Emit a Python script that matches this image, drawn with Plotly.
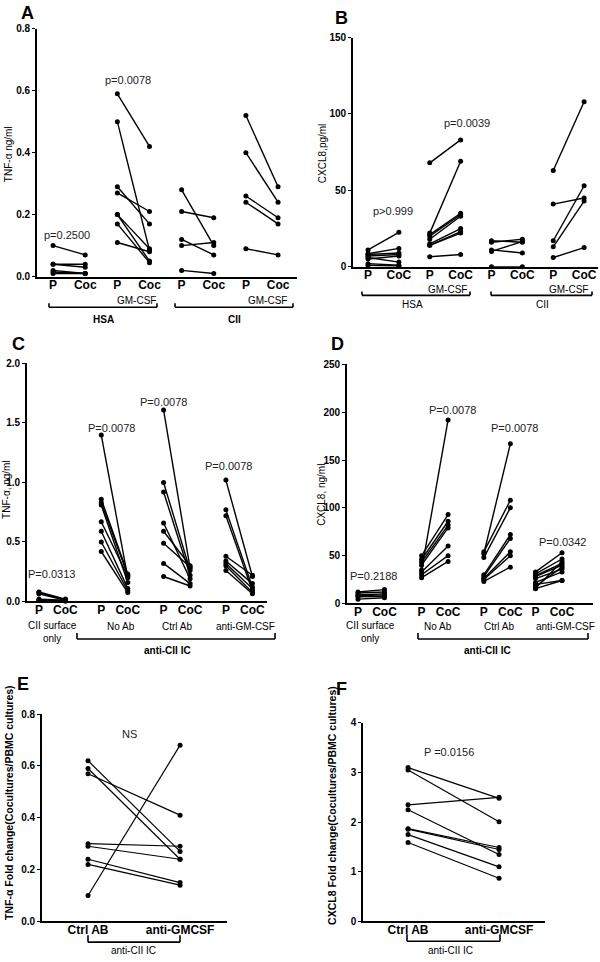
import plotly.graph_objects as go

W, H = 600, 962
FONT = "Liberation Sans, Arial, sans-serif"

# ---------------- DATA ----------------
# Panel A: TNF-alpha ng/ml (P -> Coc pairs), groups: HSA, HSA+GM-CSF, CII, CII+GM-CSF
A_P = [[0.10, 0.04, 0.04, 0.02, 0.015, 0.01],
       [0.59, 0.50, 0.29, 0.27, 0.20, 0.20, 0.17, 0.11],
       [0.28, 0.21, 0.12, 0.10, 0.02],
       [0.52, 0.40, 0.26, 0.24, 0.09]]
A_C = [[0.07, 0.04, 0.03, 0.01, 0.01, 0.01],
       [0.42, 0.085, 0.17, 0.21, 0.09, 0.05, 0.045, 0.08],
       [0.10, 0.19, 0.07, 0.11, 0.01],
       [0.29, 0.24, 0.19, 0.17, 0.07]]
A_ticks = ["P", "Coc"] * 4
A_pvals = ["p=0.2500", "p=0.0078"]

# Panel B: CXCL8 pg/ml
B_P = [[11, 8.5, 8, 7, 6, 5, 2, 1],
       [68, 22, 21, 20, 18, 15, 14, 14, 6.5],
       [17, 16, 10, 11, 0],
       [63, 41, 17, 13, 6]]
B_C = [[22.5, 12, 9, 8, 3, 7, 1, 0.5],
       [83, 69, 35, 34, 33, 25, 23, 22, 8],
       [16, 18, 16.5, 9, 0],
       [108, 45, 53, 43, 12.5]]
B_ticks = ["P", "CoC"] * 4
B_pvals = ["p>0.999", "p=0.0039"]

# Panel C: TNF-alpha ng/ml, groups: CII surface only, No Ab, Ctrl Ab, anti-GM-CSF
C_P = [[0.08, 0.075, 0.065, 0.02, 0.01, 0.01],
       [1.40, 0.86, 0.83, 0.81, 0.67, 0.59, 0.50, 0.42],
       [1.61, 1.00, 0.92, 0.66, 0.59, 0.49, 0.32, 0.21],
       [1.02, 0.77, 0.72, 0.38, 0.34, 0.32, 0.30, 0.26]]
C_C = [[0.02, 0.015, 0.01, 0.01, 0.005, 0.005],
       [0.20, 0.23, 0.22, 0.16, 0.21, 0.11, 0.09, 0.075],
       [0.28, 0.26, 0.22, 0.19, 0.30, 0.29, 0.15, 0.13],
       [0.21, 0.12, 0.09, 0.22, 0.15, 0.11, 0.075, 0.065]]
C_ticks = ["P", "CoC"] * 4
C_groups = ["CII surface<br>only", "No Ab", "Ctrl Ab", "anti-GM-CSF"]
C_pvals = ["P=0.0313", "P=0.0078", "P=0.0078", "P=0.0078"]

# Panel D: CXCL8 ng/ml
D_P = [[12, 11, 9, 8, 7, 4.5],
       [50, 46, 43, 40, 35, 33, 30, 27],
       [54, 52, 48, 30, 28, 26, 25, 23],
       [33, 31, 29, 28, 26, 22, 20, 18, 16, 15.5]]
D_C = [[14.5, 12, 10, 9, 7.5, 6],
       [93, 86, 82, 79, 192, 60, 50, 44],
       [108, 167, 100, 72, 68, 54, 50, 38],
       [53, 46.5, 42, 40, 36, 33, 24, 38, 44, 24]]
D_ticks = ["P", "CoC"] * 4
D_groups = C_groups
D_pvals = ["P=0.2188", "P=0.0078", "P=0.0078", "P=0.0342"]

# Panel E: TNF-alpha fold change
E_ctrl = [0.62, 0.59, 0.57, 0.30, 0.29, 0.24, 0.22, 0.10]
E_anti = [0.27, 0.24, 0.41, 0.29, 0.24, 0.15, 0.14, 0.68]
E_ticks = ["Ctrl AB", "anti-GMCSF"]

# Panel F: CXCL8 fold change
F_ctrl = [3.10, 3.05, 2.35, 2.25, 1.87, 1.86, 1.75, 1.59]
F_anti = [2.48, 2.01, 2.50, 1.35, 1.49, 1.45, 1.10, 0.87]
F_ticks = ["Ctrl AB", "anti-GMCSF"]

# ---------------- LAYOUT HELPERS ----------------
def px(x):
    return x / W

def py(y):
    return 1 - y / H

fig = go.Figure()
annotations = []
shapes = []
PCOL = "#222222"

def pairs_trace(xa, ya, xp, xc, P, C, width=1.4):
    xs, ys = [], []
    for p, c in zip(P, C):
        xs += [xp, xc, None]
        ys += [p, c, None]
    fig.add_trace(go.Scatter(
        x=xs, y=ys, mode="lines+markers", xaxis=xa, yaxis=ya,
        line=dict(color="black", width=width),
        marker=dict(color="black", size=5),
        cliponaxis=False, showlegend=False, hoverinfo="skip"))

def axis_pair(n, xdom, ydom, xrange, yrange, tickvals, ticktext, ytickvals, yfmt,
              xfont=12):
    xa = f"xaxis{n}" if n > 1 else "xaxis"
    ya = f"yaxis{n}" if n > 1 else "yaxis"
    ax_id = f"x{n}" if n > 1 else "x"
    ay_id = f"y{n}" if n > 1 else "y"
    fig.layout[xa] = dict(
        domain=[px(xdom[0]), px(xdom[1])], range=xrange, anchor=ay_id,
        showline=True, linecolor="black", linewidth=1.6, showgrid=False,
        zeroline=False, tickvals=tickvals, ticktext=ticktext, ticks="",
        ticklabelstandoff=-4,
        tickfont=dict(family=FONT, size=xfont, color="black", weight="bold"),
        fixedrange=True)
    fig.layout[ya] = dict(
        domain=[py(ydom[1]), py(ydom[0])], range=yrange, anchor=ax_id,
        showline=True, linecolor="black", linewidth=1.6, showgrid=False,
        zeroline=False, tickvals=ytickvals, tickformat=yfmt, ticks="outside",
        ticklen=3, tickwidth=1.2, tickcolor="black",
        tickfont=dict(family=FONT, size=10, color="black", weight="bold"),
        fixedrange=True)
    return ax_id, ay_id

def text(x, y, s, size=11, bold=False, xref="paper", yref="paper", color="black",
         angle=0, xanchor="center"):
    annotations.append(dict(
        x=x, y=y, xref=xref, yref=yref, text=s, showarrow=False,
        textangle=angle, xanchor=xanchor, yanchor="middle",
        font=dict(family=FONT, size=size, color=color,
                  weight="bold" if bold else "normal")))

def line(x0, y0, x1, y1, w=1.6):
    shapes.append(dict(type="line", xref="paper", yref="paper",
                       x0=px(x0), y0=py(y0), x1=px(x1), y1=py(y1),
                       line=dict(color="black", width=w)))

def bracket(xl, xr, y, up=5, w=1.6):
    line(xl, y, xr, y, w)
    line(xl, y, xl, y - up, w)
    line(xr, y, xr, y - up, w)

# ---------------- PANEL A ----------------
A_slots = [1, 2, 3, 4, 5, 6, 7, 8]
xa, ya = axis_pair(1, (37, 297), (23, 274), [0.5, 8.59], [0, 0.8],
                   A_slots, A_ticks, [0, 0.2, 0.4, 0.6, 0.8], ".1f")
for g in range(4):
    pairs_trace(xa, ya, A_slots[2 * g], A_slots[2 * g + 1], A_P[g], A_C[g])
text(1.44, 0.134, A_pvals[0], 11, xref=xa, yref=ya, color=PCOL)
text(3.34, 0.634, A_pvals[1], 11, xref=xa, yref=ya, color=PCOL)
text(px(136), py(298), "GM-CSF", 10)
text(px(267), py(298), "GM-CSF", 10)
bracket(49, 157, 305, 4)
bracket(175, 293, 305, 4)
text(px(103), py(317), "HSA", 10, bold=True)
text(px(234), py(317), "CII", 10, bold=True)
text(px(8), py(150), "TNF-α ng/ml", 10, angle=-90)
text(px(27), py(7), "A", 18, bold=True)

# ---------------- PANEL B ----------------
B_slots = [1, 2, 3, 4, 5, 6, 7, 8]
xb, yb = axis_pair(2, (353, 598), (32, 264), [0.514, 8.45], [0, 150],
                   B_slots, B_ticks, [0, 50, 100, 150], "d")
for g in range(4):
    pairs_trace(xb, yb, B_slots[2 * g], B_slots[2 * g + 1], B_P[g], B_C[g])
text(1.81, 36.2, B_pvals[0], 11, xref=xb, yref=yb, color=PCOL)
text(4.2, 94.4, B_pvals[1], 11, xref=xb, yref=yb, color=PCOL)
text(px(447), py(287), "GM-CSF", 10)
text(px(568), py(287), "GM-CSF", 10)
bracket(362, 470, 293, 4)
bracket(491, 592, 293, 4)
text(px(412), py(302), "HSA", 10)
text(px(542), py(302), "CII", 10)
text(px(322), py(150), "CXCL8,pg/ml", 10, angle=-90)
text(px(342), py(12), "B", 18, bold=True)

# ---------------- PANEL C ----------------
C_Pslots = [0, 2.35, 4.7, 7.05]
C_slots = []
for s in C_Pslots:
    C_slots += [s, s + 1]
xc, yc = axis_pair(3, (27, 267), (362, 603), [-0.45, 8.6], [0, 2],
                   C_slots, C_ticks, [0, 0.5, 1.0, 1.5, 2.0], ".1f")
for g in range(4):
    pairs_trace(xc, yc, C_Pslots[g], C_Pslots[g] + 1, C_P[g], C_C[g])
C_ppos = [(0.49, 0.232), (2.75, 1.46), (4.68, 1.676), (7.13, 1.137)]
for (x, y), s in zip(C_ppos, C_pvals):
    text(x, y, s, 11, xref=xc, yref=yc, color=PCOL)
C_gx = [52, 121, 177, 246]
for g in range(4):
    yy = 634 if g == 0 else 628
    text(px(C_gx[g]), py(yy), C_groups[g], 10)
bracket(77, 275, 641, 6)
text(px(167), py(653), "anti-CII IC", 10, bold=True)
text(px(7), py(490), "TNF-α, ng/ml", 10, angle=-90)
text(px(18), py(342), "C", 18, bold=True)

# ---------------- PANEL D ----------------
D_Pslots = [0, 2.4, 4.75, 6.7]
D_slots = []
for s in D_Pslots:
    D_slots += [s, s + 1]
xd, yd = axis_pair(4, (347, 593), (363, 605), [-0.415, 8.87], [0, 250],
                   D_slots, D_ticks, [0, 50, 100, 150, 200, 250], "d")
for g in range(4):
    pairs_trace(xd, yd, D_Pslots[g], D_Pslots[g] + 1, D_P[g], D_C[g])
D_ppos = [(0.60, 28.9), (3.55, 202.5), (5.89, 183.9), (7.70, 64.0)]
for (x, y), s in zip(D_ppos, D_pvals):
    text(x, y, s, 11, xref=xd, yref=yd, color=PCOL)
D_gx = [370, 438, 499, 565]
for g in range(4):
    yy = 634 if g == 0 else 628
    text(px(D_gx[g]), py(yy), D_groups[g], 10)
bracket(418, 588, 641, 6)
text(px(487), py(653), "anti-CII IC", 10, bold=True)
text(px(322), py(495), "CXCL8, ng/ml", 10, angle=-90)
text(px(337), py(342), "D", 18, bold=True)

# ---------------- PANEL E ----------------
xe, ye = axis_pair(5, (42, 227), (717, 927), [-0.5, 1.51], [0, 0.8],
                   [0, 1], E_ticks, [0, 0.2, 0.4, 0.6, 0.8], ".1f")
pairs_trace(xe, ye, 0, 1, E_ctrl, E_anti, 1.2)
text(0.446, 0.724, "NS", 11, xref=xe, yref=ye, color=PCOL)
bracket(88, 180, 948, 7)
text(px(133), py(956), "anti-CII IC", 10)
text(px(9), py(807), "TNF-α Fold change(Cocultures/PBMC cultures)", 10.5,
     bold=True, angle=-90)
text(px(23), py(687), "E", 18, bold=True)

# ---------------- PANEL F ----------------
xf, yf = axis_pair(6, (363, 545), (726, 927), [-0.495, 1.505], [0, 4],
                   [0, 1], F_ticks, [0, 1, 2, 3, 4], "d")
pairs_trace(xf, yf, 0, 1, F_ctrl, F_anti, 1.2)
text(0.45, 3.42, "P =0.0156", 11, xref=xf, yref=yf, color=PCOL)
bracket(407, 500, 947, 7)
text(px(450), py(956), "anti-CII IC", 10)
text(px(332), py(810), "CXCL8 Fold change(Cocultures/PBMC cultures)", 10.5,
     bold=True, angle=-90)
text(px(342), py(692), "F", 18, bold=True)

fig.update_layout(
    width=W, height=H, margin=dict(l=0, r=0, t=0, b=0),
    paper_bgcolor="white", plot_bgcolor="white",
    annotations=annotations, shapes=shapes,
    font=dict(family=FONT, color="black"))

fig.write_html("out.html", config={"displayModeBar": False},
               post_script="document.body.style.margin='0';"
                           "document.body.style.overflow='hidden';")
